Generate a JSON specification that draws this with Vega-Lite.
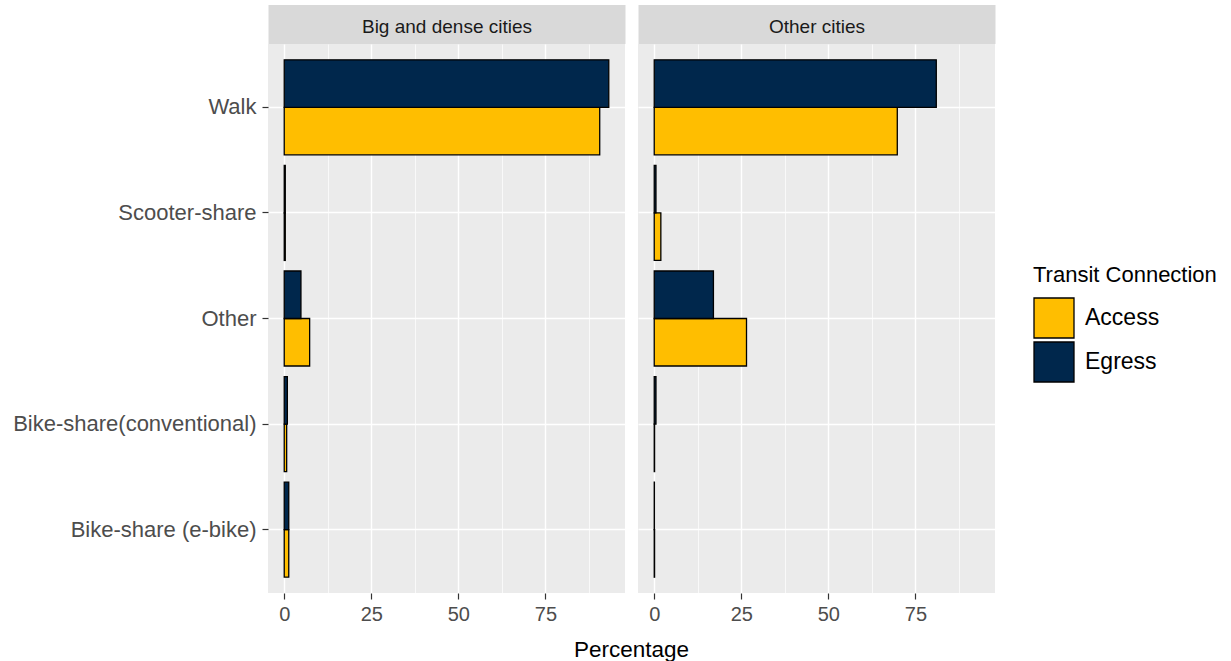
{
  "$schema": "https://vega.github.io/schema/vega-lite/v6.json",
  "padding": {"left": 10, "top": 17, "right": 2, "bottom": 2},
  "autosize": {"type": "pad"},
  "background": "white",
  "config": {"view": {"stroke": null}, "font": "Liberation Sans"},
  "datasets": {
    "modes": [
      {"city": "Big and dense cities", "mode": "Walk", "conn": "Access", "pct": 90.6},
      {"city": "Big and dense cities", "mode": "Walk", "conn": "Egress", "pct": 93.2},
      {"city": "Big and dense cities", "mode": "Scooter-share", "conn": "Access", "pct": 0.3},
      {"city": "Big and dense cities", "mode": "Scooter-share", "conn": "Egress", "pct": 0.3},
      {"city": "Big and dense cities", "mode": "Other", "conn": "Access", "pct": 7.3},
      {"city": "Big and dense cities", "mode": "Other", "conn": "Egress", "pct": 4.8},
      {"city": "Big and dense cities", "mode": "Bike-share(conventional)", "conn": "Access", "pct": 0.7},
      {"city": "Big and dense cities", "mode": "Bike-share(conventional)", "conn": "Egress", "pct": 0.9},
      {"city": "Big and dense cities", "mode": "Bike-share (e-bike)", "conn": "Access", "pct": 1.3},
      {"city": "Big and dense cities", "mode": "Bike-share (e-bike)", "conn": "Egress", "pct": 1.3},
      {"city": "Other cities", "mode": "Walk", "conn": "Access", "pct": 69.8},
      {"city": "Other cities", "mode": "Walk", "conn": "Egress", "pct": 81.0},
      {"city": "Other cities", "mode": "Scooter-share", "conn": "Access", "pct": 1.9},
      {"city": "Other cities", "mode": "Scooter-share", "conn": "Egress", "pct": 0.5},
      {"city": "Other cities", "mode": "Other", "conn": "Access", "pct": 26.5},
      {"city": "Other cities", "mode": "Other", "conn": "Egress", "pct": 17.0},
      {"city": "Other cities", "mode": "Bike-share(conventional)", "conn": "Access", "pct": 0.1},
      {"city": "Other cities", "mode": "Bike-share(conventional)", "conn": "Egress", "pct": 0.5},
      {"city": "Other cities", "mode": "Bike-share (e-bike)", "conn": "Access", "pct": 0.1},
      {"city": "Other cities", "mode": "Bike-share (e-bike)", "conn": "Egress", "pct": 0.05}
    ]
  },
  "bounds": "flush",
  "spacing": 13,
  "hconcat": [
    {
      "width": 357, "height": 549,
      "data": {"name": "modes"},
      "transform": [{"filter": "datum.city == 'Big and dense cities'"}],
      "view": {"fill": "#EBEBEB", "stroke": null},
      "resolve": {"axis": {"x": "independent"}},
      "layer": [
        {
          "mark": {"type": "bar", "opacity": 0},
          "encoding": {
            "x": {"field": "pct", "type": "quantitative",
              "scale": {"domain": [-4.66, 97.86], "nice": false, "zero": false},
              "axis": {"orient": "top", "values": [12.5, 37.5, 62.5, 87.5], "grid": true, "gridColor": "white", "gridWidth": 0.7, "labels": false, "ticks": false, "domain": true, "domainColor": "#D9D9D9", "domainWidth": 39, "offset": 20, "title": "Big and dense cities", "titleFontSize": 19, "titleFontWeight": "normal", "titleColor": "#1A1A1A", "titleBaseline": "middle", "titleX": 178.5, "titleY": 2}}
          }
        },
        {
          "mark": {"type": "bar", "stroke": "black", "strokeWidth": 1.3},
          "encoding": {
            "x": {"field": "pct", "type": "quantitative",
              "scale": {"domain": [-4.66, 97.86], "nice": false, "zero": false},
              "axis": {"values": [0, 25, 50, 75], "grid": true, "gridColor": "white", "gridWidth": 1.4, "domain": false, "tickColor": "#333333", "tickSize": 6, "tickWidth": 1.2, "labelFontSize": 20, "labelColor": "#4D4D4D", "labelPadding": 5, "title": "Percentage", "titleX": 363, "titleFontSize": 22.5, "titleFontWeight": "normal", "titleColor": "black", "titlePadding": 14}},
            "y": {"field": "mode", "type": "nominal",
              "sort": ["Walk", "Scooter-share", "Other", "Bike-share(conventional)", "Bike-share (e-bike)"],
              "scale": {"paddingInner": 0.1, "paddingOuter": 0.15},
              "axis": {"title": null, "grid": true, "gridColor": "white", "gridWidth": 1.4, "bandPosition": 0.5, "domain": false, "tickColor": "#333333", "tickSize": 6, "tickWidth": 1.2, "labelFontSize": 22, "labelColor": "#4D4D4D", "labelPadding": 6, "labelLimit": 0, "minExtent": 258, "maxExtent": 258}},
            "yOffset": {"field": "conn", "type": "nominal", "sort": ["Egress", "Access"], "scale": {"paddingInner": 0, "paddingOuter": 0}},
            "color": {"field": "conn", "type": "nominal",
              "scale": {"domain": ["Access", "Egress"], "range": ["#FFBE00", "#00274C"]},
              "legend": {"title": "Transit Connection", "orient": "none", "legendX": 765, "legendY": 221, "titleFontSize": 22, "titleFontWeight": "normal", "titleColor": "black", "titleLimit": 0, "labelFontSize": 23, "labelColor": "black", "symbolType": "square", "symbolSize": 1600, "symbolStrokeColor": "black", "symbolStrokeWidth": 1.3, "symbolOpacity": 1, "rowPadding": -10, "labelOffset": 10, "titlePadding": 10}}
          }
        }
      ]
    },
    {
      "width": 357, "height": 549,
      "data": {"name": "modes"},
      "transform": [{"filter": "datum.city == 'Other cities'"}],
      "view": {"fill": "#EBEBEB", "stroke": null},
      "resolve": {"axis": {"x": "independent"}},
      "layer": [
        {
          "mark": {"type": "bar", "opacity": 0},
          "encoding": {
            "x": {"field": "pct", "type": "quantitative",
              "scale": {"domain": [-4.66, 97.86], "nice": false, "zero": false},
              "axis": {"orient": "top", "values": [12.5, 37.5, 62.5, 87.5], "grid": true, "gridColor": "white", "gridWidth": 0.7, "labels": false, "ticks": false, "domain": true, "domainColor": "#D9D9D9", "domainWidth": 39, "offset": 20, "title": "Other cities", "titleFontSize": 19, "titleFontWeight": "normal", "titleColor": "#1A1A1A", "titleBaseline": "middle", "titleX": 178.5, "titleY": 2}}
          }
        },
        {
          "mark": {"type": "bar", "stroke": "black", "strokeWidth": 1.3},
          "encoding": {
            "x": {"field": "pct", "type": "quantitative",
              "scale": {"domain": [-4.66, 97.86], "nice": false, "zero": false},
              "axis": {"values": [0, 25, 50, 75], "grid": true, "gridColor": "white", "gridWidth": 1.4, "domain": false, "tickColor": "#333333", "tickSize": 6, "tickWidth": 1.2, "labelFontSize": 20, "labelColor": "#4D4D4D", "labelPadding": 5, "title": null}},
            "y": {"field": "mode", "type": "nominal",
              "sort": ["Walk", "Scooter-share", "Other", "Bike-share(conventional)", "Bike-share (e-bike)"],
              "scale": {"paddingInner": 0.1, "paddingOuter": 0.15},
              "axis": {"title": null, "grid": true, "gridColor": "white", "gridWidth": 1.4, "bandPosition": 0.5, "domain": false, "ticks": false, "labels": false}},
            "yOffset": {"field": "conn", "type": "nominal", "sort": ["Egress", "Access"], "scale": {"paddingInner": 0, "paddingOuter": 0}},
            "color": {"field": "conn", "type": "nominal",
              "scale": {"domain": ["Access", "Egress"], "range": ["#FFBE00", "#00274C"]},
              "legend": {"title": "Transit Connection", "orient": "none", "legendX": 765, "legendY": 221, "titleFontSize": 22, "titleFontWeight": "normal", "titleColor": "black", "titleLimit": 0, "labelFontSize": 23, "labelColor": "black", "symbolType": "square", "symbolSize": 1600, "symbolStrokeColor": "black", "symbolStrokeWidth": 1.3, "symbolOpacity": 1, "rowPadding": -10, "labelOffset": 10, "titlePadding": 10}}
          }
        }
      ]
    }
  ]
}
